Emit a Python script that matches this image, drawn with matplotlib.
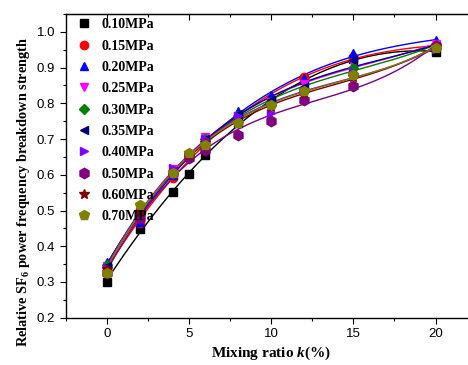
import matplotlib
matplotlib.use("Agg")
import matplotlib.pyplot as plt
import numpy as np

# Data
k = [0, 2, 4, 5, 6, 8, 10, 12, 15, 20]
labels = ["0.10MPa", "0.15MPa", "0.20MPa", "0.25MPa", "0.30MPa",
          "0.35MPa", "0.40MPa", "0.50MPa", "0.60MPa", "0.70MPa"]
p010 = [0.300, 0.447, 0.552, 0.602, 0.654, 0.745, 0.800, 0.865, 0.925, 0.944]
p015 = [0.340, 0.464, 0.590, 0.650, 0.690, 0.765, 0.815, 0.874, 0.930, 0.960]
p020 = [0.357, 0.469, 0.600, 0.655, 0.700, 0.779, 0.823, 0.870, 0.940, 0.977]
p025 = [0.345, 0.490, 0.615, 0.655, 0.705, 0.765, 0.805, 0.855, 0.910, 0.965]
p030 = [0.347, 0.490, 0.605, 0.655, 0.700, 0.765, 0.805, 0.840, 0.900, 0.962]
p035 = [0.345, 0.497, 0.610, 0.655, 0.700, 0.770, 0.810, 0.845, 0.920, 0.960]
p040 = [0.340, 0.497, 0.618, 0.655, 0.700, 0.765, 0.773, 0.835, 0.888, 0.951]
p050 = [0.325, 0.480, 0.605, 0.646, 0.669, 0.711, 0.751, 0.809, 0.849, 0.960]
p060 = [0.335, 0.495, 0.605, 0.655, 0.690, 0.744, 0.790, 0.828, 0.874, 0.958]
p070 = [0.326, 0.515, 0.605, 0.662, 0.683, 0.745, 0.795, 0.835, 0.880, 0.955]
series = [p010, p015, p020, p025, p030, p035, p040, p050, p060, p070]

colors = ["black", "red", "blue", "magenta", "green",
          "navy", "#8000ff", "purple", "#800000", "#808000"]
markers = ["s", "o", "^", "v", "D", "<", ">", "h", "*", "p"]

plt.rcParams["mathtext.fontset"] = "custom"
plt.rcParams["mathtext.rm"] = "Liberation Serif:bold"
plt.rcParams["mathtext.it"] = "Liberation Serif:bold:italic"
plt.rcParams["mathtext.bf"] = "Liberation Serif:bold"

fig = plt.figure(figsize=(4.68, 3.65), dpi=100)
ax = fig.add_axes([0.1404, 0.1296, 0.878, 0.832])

xs = np.linspace(0, 20, 200)
for vals, c, m, lab in zip(series, colors, markers, labels):
    coef = np.polyfit(k, vals, 3)
    ax.plot(xs, np.polyval(coef, xs), color=c, lw=1.0, zorder=2)
    ms = 7.5 if m in ("*", "h", "p") else 6
    if m == "D":
        ms = 5
    ax.plot(k, vals, linestyle="none", marker=m, color=c, markersize=ms,
            label=lab, zorder=3)

ax.set_xlim(-2.5, 22.5)
ax.set_ylim(0.2, 1.05)
ax.set_xticks([0, 5, 10, 15, 20])
ax.set_xticks(np.arange(-2.5, 22.6, 2.5), minor=True)
ax.set_yticks(np.arange(0.2, 1.01, 0.1))
ax.set_yticks(np.arange(0.2, 1.06, 0.05), minor=True)
ax.set_yticklabels(["%.1f" % v for v in np.arange(0.2, 1.01, 0.1)])
ax.tick_params(which="both", direction="out", labelsize=9.5, width=0.8)
ax.tick_params(which="major", length=4)
ax.tick_params(which="minor", length=2.5)
for t in ax.get_xticklabels() + ax.get_yticklabels():
    t.set_fontfamily("Liberation Sans")

top = ax.secondary_xaxis("top")
top.set_xticks([0, 5, 10, 15, 20])
top.set_xticks(np.arange(-2.5, 22.6, 2.5), minor=True)
top.tick_params(which="both", direction="in", labeltop=False, width=0.8)
top.tick_params(which="major", length=4)
top.tick_params(which="minor", length=2.5)

for s in ax.spines.values():
    s.set_linewidth(1.0)

ax.set_xlabel("Mixing ratio $k$(%)", fontsize=11, fontweight="bold",
              fontfamily="Liberation Serif", labelpad=3)
ax.set_ylabel("Relative SF$_6$ power frequency breakdown strength",
              fontsize=10.3, fontweight="bold", fontfamily="Liberation Serif")
ax.yaxis.set_label_coords(-0.082, 0.414)

ax.legend(loc="upper left", frameon=False, handletextpad=0.3,
          labelspacing=0.6, borderaxespad=0.1, borderpad=0.2,
          handlelength=2.0, bbox_to_anchor=(0.0, 1.0),
          prop={"family": "Liberation Serif", "weight": "bold", "size": 10})

fig.savefig("out.png", dpi=100)
